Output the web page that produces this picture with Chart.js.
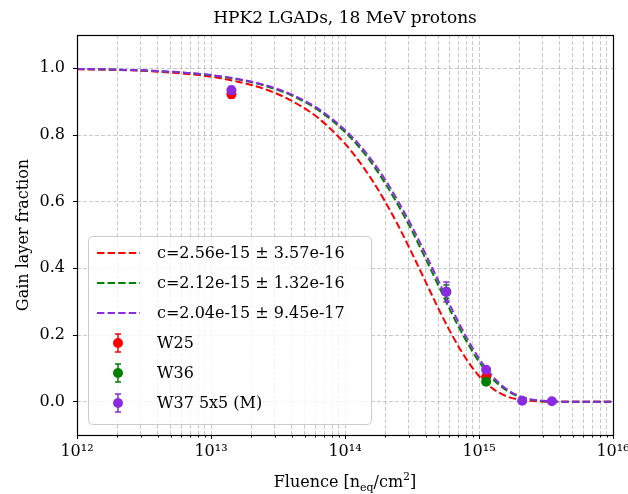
<!DOCTYPE html>
<html>
<head>
<meta charset="utf-8">
<script src="https://cdn.jsdelivr.net/npm/chart.js@4.4.1/dist/chart.umd.min.js"></script>
<style>
  html, body { margin: 0; padding: 0; background: #fff; }
  #wrap { width: 628px; height: 494px; }
</style>
</head>
<body>
<div id="wrap"><canvas id="chart" width="628" height="494"></canvas></div>
<script>
const FONT = '"DejaVu Serif", serif';

// fit curves, sampled along the fluence axis
const fluence = [1e12, 1.585e12, 2.512e12, 3.981e12, 6.31e12, 1e13, 1.585e13, 2.512e13, 3.981e13, 6.31e13,
                 1e14, 1.259e14, 1.585e14, 1.995e14, 2.512e14, 3.162e14, 3.981e14, 5.012e14, 6.31e14, 7.943e14,
                 1e15, 1.259e15, 1.585e15, 1.995e15, 2.512e15, 3.162e15, 3.981e15, 6.31e15, 1e16];
const fitW25 = [0.997, 0.996, 0.994, 0.990, 0.984, 0.975, 0.960, 0.938, 0.903, 0.851,
                0.774, 0.724, 0.666, 0.600, 0.526, 0.445, 0.361, 0.277, 0.199, 0.131,
                0.077, 0.040, 0.017, 0.006, 0.002, 0.000, 0, 0, 0];
const fitW36 = [0.998, 0.997, 0.995, 0.992, 0.987, 0.979, 0.967, 0.948, 0.919, 0.875,
                0.809, 0.766, 0.715, 0.655, 0.587, 0.512, 0.430, 0.346, 0.262, 0.186,
                0.120, 0.069, 0.035, 0.015, 0.005, 0.001, 0, 0, 0];
const fitW37 = [0.998, 0.997, 0.995, 0.992, 0.987, 0.980, 0.968, 0.950, 0.922, 0.879,
                0.815, 0.774, 0.724, 0.666, 0.599, 0.525, 0.444, 0.360, 0.276, 0.198,
                0.130, 0.077, 0.039, 0.017, 0.006, 0.002, 0, 0, 0];
const fitLabels = ['c=2.56e-15 \u00b1 3.57e-16', 'c=2.12e-15 \u00b1 1.32e-16', 'c=2.04e-15 \u00b1 9.45e-17'];

// measured points
const w25Fluence = [1.42e13, 1.13e15];
const w25Frac = [0.922, 0.074];
const w25Err = [0.012, 0.008];
const w36Fluence = [5.7e14, 1.13e15];
const w36Frac = [0.33, 0.060];
const w36Err = [0.02, 0.008];
const w37Fluence = [1.42e13, 5.7e14, 1.13e15, 2.1e15, 3.5e15];
const w37Frac = [0.934, 0.329, 0.096, 0.003, 0.001];
const w37Err = [0.012, 0.03, 0.008, 0.003, 0.003];
const pointLabels = ['W25', 'W36', 'W37 5x5 (M)'];

const colors = ['#ff0000', '#008000', '#8a2be2'];

const titleText = 'HPK2 LGADs, 18 MeV protons';
const xMajor = [1e12, 1e13, 1e14, 1e15, 1e16];
const xTickLabels = ['10\u00b9\u00b2', '10\u00b9\u00b3', '10\u00b9\u2074', '10\u00b9\u2075', '10\u00b9\u2076'];
const yTicks = [0, 0.2, 0.4, 0.6, 0.8, 1.0];

const GRID = 'rgba(150,150,150,0.65)';
const toXY = (xs, ys) => xs.map((x, i) => ({ x: x, y: ys[i] }));

function fitSet(label, ys, color, order) {
    return {
        label: label, data: toXY(fluence, ys), showLine: true,
        borderColor: color, backgroundColor: color, borderWidth: 2,
        borderDash: [7.4, 3.2], pointRadius: 0, cubicInterpolationMode: 'monotone',
        order: order
    };
}
function pointSet(label, xs, ys, errs, color, order) {
    return {
        label: label, data: toXY(xs, ys), yErr: errs, showLine: false,
        backgroundColor: color, borderColor: color, borderWidth: 0,
        pointRadius: 5, pointHoverRadius: 5, order: order
    };
}

function majorIndex(v) {
    return xMajor.findIndex(m => Math.abs(Math.log10(v) - Math.log10(m)) < 1e-6);
}

const extras = {
    id: 'extras',
    beforeDatasetDraw(chart, args) {
        const ds = chart.data.datasets[args.index];
        if (!ds.yErr) return;
        const ctx = chart.ctx, xs = chart.scales.x, ys = chart.scales.y;
        ctx.save();
        ctx.strokeStyle = ds.borderColor;
        ctx.lineWidth = 1.5;
        ds.data.forEach((p, i) => {
            const e = ds.yErr[i];
            const px = xs.getPixelForValue(p.x);
            const y1 = ys.getPixelForValue(p.y - e), y2 = ys.getPixelForValue(p.y + e);
            ctx.beginPath();
            ctx.moveTo(px, y1); ctx.lineTo(px, y2);
            ctx.moveTo(px - 3, y1); ctx.lineTo(px + 3, y1);
            ctx.moveTo(px - 3, y2); ctx.lineTo(px + 3, y2);
            ctx.stroke();
        });
        ctx.restore();
    },
    afterDraw(chart) {
        const ctx = chart.ctx, a = chart.chartArea;
        const cx = (a.left + a.right) / 2;
        ctx.save();
        // axes frame
        ctx.strokeStyle = '#000';
        ctx.lineWidth = 1.2;
        ctx.strokeRect(Math.round(a.left) + 0.5, Math.round(a.top) + 0.5,
                       Math.round(a.right - a.left), Math.round(a.bottom - a.top));

        // short minor ticks on the x axis
        const xs = chart.scales.x;
        ctx.lineWidth = 1;
        ctx.beginPath();
        xs.ticks.forEach(t => {
            if (majorIndex(t.value) >= 0) return;
            const px = Math.round(xs.getPixelForValue(t.value)) + 0.5;
            ctx.moveTo(px, a.bottom); ctx.lineTo(px, a.bottom + 2.5);
        });
        ctx.stroke();

        // title centred on the axes
        ctx.fillStyle = '#000';
        ctx.textAlign = 'center';
        ctx.textBaseline = 'alphabetic';
        ctx.font = '17px ' + FONT;
        ctx.fillText(titleText, cx, 23);

        // x-axis title with sub/superscript
        const by = 487;
        const big = '16px ' + FONT, small = '11px ' + FONT;
        const parts = [['Fluence [n', big, 0], ['eq', small, 4], ['/cm', big, 0], ['2', small, -7], [']', big, 0]];
        let total = 0;
        parts.forEach(p => { ctx.font = p[1]; total += ctx.measureText(p[0]).width; });
        let x = cx - total / 2;
        ctx.textAlign = 'left';
        parts.forEach(p => {
            ctx.font = p[1];
            ctx.fillText(p[0], x, by + p[2]);
            x += ctx.measureText(p[0]).width;
        });

        // legend box
        const lx = a.left + 11, ly = a.top + 201, lw = 283, lh = 188;
        ctx.beginPath();
        ctx.roundRect(lx + 0.5, ly + 0.5, lw, lh, 4);
        ctx.fillStyle = 'rgba(255,255,255,0.8)';
        ctx.fill();
        ctx.strokeStyle = '#cccccc';
        ctx.lineWidth = 1;
        ctx.stroke();

        const rows = chart.data.datasets;
        ctx.font = '16px ' + FONT;
        ctx.textBaseline = 'middle';
        rows.forEach((ds, i) => {
            const ry = ly + 17 + i * 30;
            if (ds.showLine) {
                ctx.strokeStyle = ds.borderColor;
                ctx.lineWidth = 2;
                ctx.setLineDash([7.4, 3.2]);
                ctx.beginPath();
                ctx.moveTo(lx + 9, ry); ctx.lineTo(lx + 52, ry);
                ctx.stroke();
                ctx.setLineDash([]);
            } else {
                const mx = lx + 30;
                ctx.strokeStyle = ds.backgroundColor;
                ctx.lineWidth = 1.5;
                ctx.beginPath();
                ctx.moveTo(mx, ry - 9); ctx.lineTo(mx, ry + 9);
                ctx.moveTo(mx - 3, ry - 9); ctx.lineTo(mx + 3, ry - 9);
                ctx.moveTo(mx - 3, ry + 9); ctx.lineTo(mx + 3, ry + 9);
                ctx.stroke();
                ctx.fillStyle = ds.backgroundColor;
                ctx.beginPath();
                ctx.arc(mx, ry, 5, 0, Math.PI * 2);
                ctx.fill();
            }
            ctx.fillStyle = '#000';
            ctx.fillText(ds.label, lx + 69, ry + 1);
        });
        ctx.restore();
    }
};

new Chart(document.getElementById('chart'), {
    type: 'scatter',
    data: {
        datasets: [
            fitSet(fitLabels[0], fitW25, colors[0], 6),
            fitSet(fitLabels[1], fitW36, colors[1], 5),
            fitSet(fitLabels[2], fitW37, colors[2], 4),
            pointSet(pointLabels[0], w25Fluence, w25Frac, w25Err, colors[0], 3),
            pointSet(pointLabels[1], w36Fluence, w36Frac, w36Err, colors[1], 2),
            pointSet(pointLabels[2], w37Fluence, w37Frac, w37Err, colors[2], 1)
        ]
    },
    options: {
        responsive: false,
        animation: false,
        devicePixelRatio: 1,
        layout: { padding: { left: 0, right: 15, top: 35, bottom: 0 } },
        plugins: {
            legend: { display: false },
            tooltip: { enabled: false },
            title: { display: false }
        },
        scales: {
            x: {
                type: 'logarithmic', min: 1e12, max: 1e16,
                afterBuildTicks: scale => {
                    const t = [];
                    xMajor.forEach((m, i) => {
                        if (i === xMajor.length - 1) { t.push({ value: m }); return; }
                        for (let k = 1; k <= 9; k++) t.push({ value: k * m });
                    });
                    scale.ticks = t;
                },
                afterFit: scale => { scale.height = 59; scale.paddingLeft = 0; scale.paddingRight = 0; },
                ticks: {
                    autoSkip: false, maxRotation: 0, color: '#000', padding: 3,
                    font: { family: FONT, size: 16 },
                    callback: v => { const i = majorIndex(v); return i >= 0 ? xTickLabels[i] : ''; }
                },
                grid: {
                    color: GRID,
                    tickColor: c => majorIndex(c.tick.value) >= 0 ? '#000' : 'rgba(0,0,0,0)',
                    tickLength: 4, lineWidth: 0.8, tickWidth: 1
                },
                border: { display: false, dash: [4, 2] },
                title: { display: false }
            },
            y: {
                min: -0.1, max: 1.1,
                afterBuildTicks: scale => { scale.ticks = yTicks.map(v => ({ value: v })); },
                afterFit: scale => { scale.width = 77; scale.paddingTop = 0; scale.paddingBottom = 0; },
                ticks: {
                    color: '#000', padding: 8, font: { family: FONT, size: 16 },
                    callback: v => v.toFixed(1)
                },
                grid: { color: GRID, tickColor: '#000', tickLength: 4, lineWidth: 0.8, tickWidth: 1 },
                border: { display: false, dash: [4, 2] },
                title: {
                    display: true, text: 'Gain layer fraction', color: '#000',
                    font: { family: FONT, size: 16 }, padding: { top: 14, bottom: 0 }
                }
            }
        }
    },
    plugins: [extras]
});
</script>
</body>
</html>
